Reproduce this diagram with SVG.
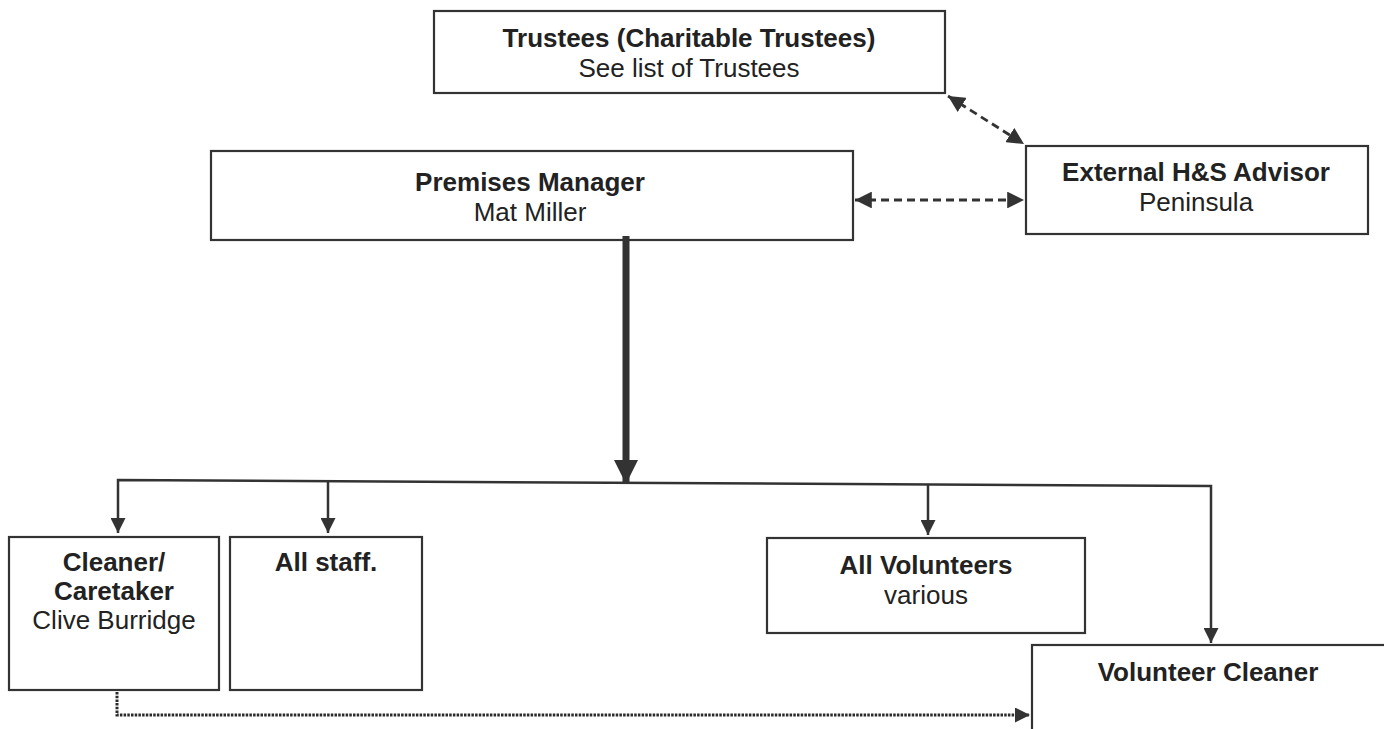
<svg xmlns="http://www.w3.org/2000/svg" width="1384" height="729" viewBox="0 0 1384 729">
<style>
.box{fill:#fff;stroke:#333;stroke-width:2.2}
.t{font-family:"Liberation Sans",Arial,sans-serif;font-size:26px;fill:#222;text-anchor:middle}
.b{font-weight:bold}
.ln{fill:none;stroke:#333;stroke-width:2.5}
.dash{fill:none;stroke:#333;stroke-width:2.8;stroke-dasharray:8 5}
.dot{fill:none;stroke:#2a2a2a;stroke-width:3;stroke-dasharray:2.5 1.2}
</style>
<defs>
<marker id="ah" viewBox="0 0 10 10" refX="10" refY="5" markerWidth="6" markerHeight="6" orient="auto-start-reverse" markerUnits="strokeWidth"><path d="M0,0 L10,5 L0,10 z" fill="#333"/></marker>
<marker id="ahd" viewBox="0 0 10 10" refX="10" refY="5" markerWidth="5" markerHeight="5" orient="auto" markerUnits="strokeWidth"><path d="M0,0 L10,5 L0,10 z" fill="#333"/></marker>
<marker id="ahb" viewBox="0 0 10 10" refX="10" refY="5" markerWidth="3.5" markerHeight="3.5" orient="auto" markerUnits="strokeWidth"><path d="M0,0 L10,5 L0,10 z" fill="#333"/></marker>
</defs>
<rect width="1384" height="729" fill="#fff"/>
<g id="trustees">
<rect class="box" x="434" y="11" width="511" height="82"/>
<text class="t b" x="689" y="47">Trustees (Charitable Trustees)</text>
<text class="t" x="689" y="77">See list of Trustees</text>
</g>
<g id="premises-manager">
<rect class="box" x="211" y="151" width="642" height="89"/>
<text class="t b" x="530" y="191">Premises Manager</text>
<text class="t" x="530" y="221">Mat Miller</text>
</g>
<g id="external-advisor">
<rect class="box" x="1026" y="146" width="342" height="88"/>
<text class="t b" x="1196" y="181">External H&amp;S Advisor</text>
<text class="t" x="1196" y="211">Peninsula</text>
</g>
<g id="cleaner-caretaker">
<rect class="box" x="9" y="537" width="210" height="153"/>
<text class="t b" x="114" y="571">Cleaner/</text>
<text class="t b" x="114" y="600">Caretaker</text>
<text class="t" x="114" y="629">Clive Burridge</text>
</g>
<g id="all-staff">
<rect class="box" x="230" y="537" width="192" height="153"/>
<text class="t b" x="326" y="571">All staff.</text>
</g>
<g id="all-volunteers">
<rect class="box" x="767" y="538" width="318" height="95"/>
<text class="t b" x="926" y="574">All Volunteers</text>
<text class="t" x="926" y="604">various</text>
</g>
<g id="volunteer-cleaner">
<rect class="box" x="1032" y="645" width="360" height="100"/>
<text class="t b" x="1208" y="681">Volunteer Cleaner</text>
</g>
<g id="connectors">
<line class="dash" x1="948" y1="96" x2="1024" y2="144" marker-start="url(#ah)" marker-end="url(#ah)"/>
<line class="dash" x1="855" y1="200" x2="1024" y2="200" marker-start="url(#ah)" marker-end="url(#ah)"/>
<line class="ln" x1="626" y1="236" x2="626" y2="484" style="stroke-width:7" marker-end="url(#ahb)"/>
<polyline class="ln" points="118,533 118,480 1211,486 1211,643" marker-start="url(#ah)" marker-end="url(#ah)"/>
<line class="ln" x1="328" y1="481" x2="328" y2="533" marker-end="url(#ah)"/>
<line class="ln" x1="928" y1="484" x2="928" y2="535" marker-end="url(#ah)"/>
<polyline class="dot" points="117,692 117,715 1030,715" marker-end="url(#ahd)"/>
</g>
</svg>
